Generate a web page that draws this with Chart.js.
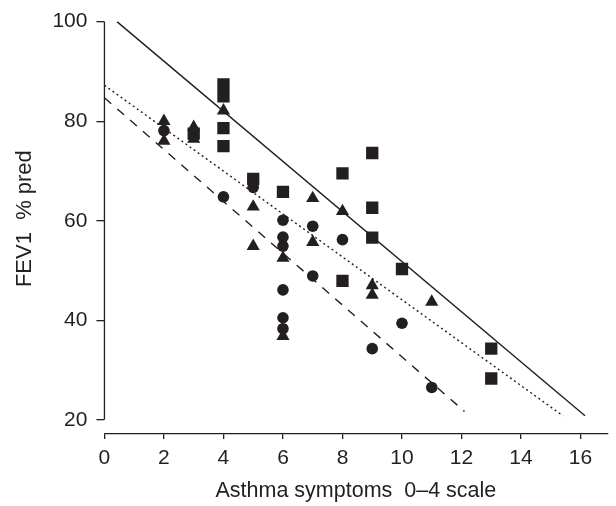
<!DOCTYPE html>
<html>
<head>
<meta charset="utf-8">
<script src="https://cdn.jsdelivr.net/npm/chart.js@4"></script>
<style>
  html, body { margin: 0; padding: 0; background: #fff; }
  #wrap { width: 616px; height: 506px; }
</style>
</head>
<body>
<div id="wrap"><canvas id="fevChart" width="616" height="506"></canvas></div>
<script>
// tick labels
var xTicks = [0, 2, 4, 6, 8, 10, 12, 14, 16]
var yTicks = [20, 40, 60, 80, 100]

// squares (solid line)
var sqX = [3, 4, 4, 4, 4, 5, 6, 8, 8, 9, 9, 9, 10, 13, 13]
var sqY = [77.5, 87.4, 85.0, 78.6, 75.0, 68.4, 65.8, 69.5, 47.9, 73.6, 62.6, 56.6, 50.3, 34.3, 28.3]

// triangles (dotted line)
var triX = [2, 2, 3, 3, 4, 5, 5, 6, 6, 7, 7, 8, 9, 9, 11]
var triY = [80.0, 76.0, 78.8, 76.4, 82.1, 62.8, 54.9, 52.5, 36.8, 64.5, 55.7, 61.9, 47.0, 45.1, 43.7]

// circles (dashed line)
var cirX = [2, 4, 5, 6, 6, 6, 6, 6, 6, 7, 7, 8, 9, 10, 11]
var cirY = [78.1, 64.8, 66.7, 60.1, 56.7, 54.9, 46.1, 40.5, 38.3, 58.9, 48.9, 56.2, 34.3, 39.4, 26.5]

// regression line end points
var solidX = [0.42, 16.15]
var solidY = [100, 20.8]
var dotX = [0, 15.41]
var dotY = [87.2, 20.8]
var dashX = [0, 12.1]
var dashY = [84.7, 21.7]

var ink = '#231f20'
var fontFam = "'Liberation Sans', Arial, sans-serif"

function pts(xs, ys) {
  return xs.map(function (x, i) { return { x: x, y: ys[i] } })
}

function pointSet(xs, ys, style, r) {
  return {
    type: 'scatter',
    data: pts(xs, ys),
    pointStyle: style,
    pointRadius: r,
    pointHoverRadius: r,
    backgroundColor: ink,
    borderColor: ink,
    borderWidth: 0
  }
}

function lineSet(xs, ys, dash, w) {
  return {
    type: 'line',
    data: pts(xs, ys),
    borderColor: ink,
    borderWidth: w,
    borderDash: dash,
    pointRadius: 0,
    fill: false,
    tension: 0
  }
}

// y axis line only spans the tick range (20..100), drawn from the scales
var yAxisLine = {
  id: 'yAxisLine',
  afterDraw: function (chart) {
    var ctx = chart.ctx
    var xs = chart.scales.x, ys = chart.scales.y
    var px = xs.getPixelForValue(xTicks[0])
    ctx.save()
    ctx.strokeStyle = ink
    ctx.lineWidth = 1.3
    ctx.beginPath()
    ctx.moveTo(px, ys.getPixelForValue(yTicks[0]))
    ctx.lineTo(px, ys.getPixelForValue(yTicks[yTicks.length - 1]))
    ctx.stroke()
    ctx.restore()
  }
}

new Chart(document.getElementById('fevChart'), {
  type: 'scatter',
  data: {
    datasets: [
      lineSet(solidX, solidY, [], 1.4),
      lineSet(dotX, dotY, [2, 3], 1.4),
      lineSet(dashX, dashY, [9, 8], 1.4),
      pointSet(sqX, sqY, 'rect', 8.7),
      pointSet(triX, triY, 'triangle', 7.6),
      pointSet(cirX, cirY, 'circle', 5.8)
    ]
  },
  options: {
    responsive: false,
    animation: false,
    layout: { padding: { top: 16, right: 0, bottom: 0, left: 12 } },
    plugins: { legend: { display: false }, tooltip: { enabled: false } },
    scales: {
      x: {
        type: 'linear',
        min: 0,
        max: 16.9,
        afterBuildTicks: function (scale) {
          scale.ticks = xTicks.map(function (v) { return { value: v } })
        },
        grid: { drawOnChartArea: false, drawTicks: true, tickLength: 5, color: ink, lineWidth: 1.3 },
        border: { display: true, color: ink, width: 1.3 },
        ticks: { color: ink, font: { family: fontFam, size: 21 }, padding: 7, maxRotation: 0 },
        title: {
          display: true,
          text: 'Asthma symptoms  0\u20134 scale',
          color: ink,
          font: { family: fontFam, size: 21.5 },
          padding: { top: 0, bottom: 2 }
        }
      },
      y: {
        type: 'linear',
        min: 17.15,
        max: 100,
        afterBuildTicks: function (scale) {
          scale.ticks = yTicks.map(function (v) { return { value: v } })
        },
        grid: { drawOnChartArea: false, drawTicks: true, tickLength: 8, color: ink, lineWidth: 1.3 },
        border: { display: false },
        ticks: { color: ink, font: { family: fontFam, size: 21 }, padding: 9 },
        title: {
          display: true,
          // leading spaces nudge the centred title up a little
          text: '   FEV1  % pred',
          color: ink,
          font: { family: fontFam, size: 22 },
          padding: { top: 0, bottom: 5 }
        }
      }
    }
  },
  plugins: [yAxisLine]
});
</script>
</body>
</html>
